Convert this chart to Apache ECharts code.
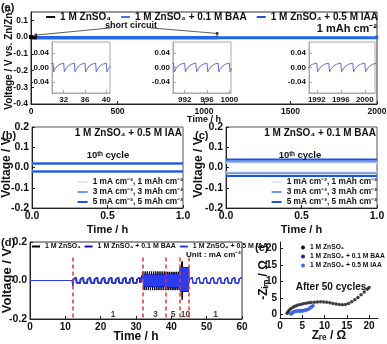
<!DOCTYPE html>
<html>
<head>
<meta charset="utf-8">
<style>html,body{margin:0;padding:0;background:#fff}#main{width:387px;height:344px}</style>
<script src="https://cdn.jsdelivr.net/npm/echarts@6.0.0/dist/echarts.min.js"></script>
</head>
<body>
<div id="main"></div>
<script>
// ---- values ----
const nameZn = '1 M ZnSO₄'
const nameBaa = '1 M ZnSO₄ + 0.1 M BAA'
const nameIaa = '1 M ZnSO₄ + 0.5 M IAA'

// (a) one 2 h cycle at 1 mA cm-2 (h into cycle, V)
const aCycle = [[0, 0.012], [0.12, -0.012], [0.4, -0.004], [0.8, 0.004], [1.3, 0.009], [2, 0.012]]
const aPeriod = 2
const aZnEnd = 24      // bare ZnSO4 shorts
const aBaaEnd = 1076   // BAA cell shorts
const aIaaEnd = 2000
const aShortAt = [[28, 0.012], [1076, 0.022]]
const aShortText = [[462, 0.055], [690, 0.055]]
const aInsetWin = [[29.8, 40.7], [989.9, 1000.3], [1990.7, 2001.7]]
const aInsetTicks = [[32, 36, 40], [992, 996, 1000], [1992, 1996, 2000]]
const aInsetTicksY = [-0.04, 0, 0.04]

// (b), (c) 10th cycle, flat plating / stripping voltages
const bcNames = ['1 mA cm⁻², 1 mAh cm⁻²', '3 mA cm⁻², 3 mAh cm⁻²', '5 mA cm⁻², 5 mAh cm⁻²']
const bcTime = [0, 1]
const bUp = [0.018, 0.02, 0.02]
const bDown = [-0.018, -0.02, -0.02]
const cUp = [0.024, 0.03, 0.039]
const cDown = [-0.025, -0.029, -0.042]

// (d) rate test
const dCycle1 = [[0, -0.015], [0.2, 0.008], [0.5, 0.015], [0.9, 0.016], [1.0, 0.014], [1.1, -0.012], [1.5, -0.014]]
const dDip = -0.03
// dense blocks: [from h, to h, period h, top V, bottom V]
const dZnBlocks = [[32, 38.5, 0.6, 0.047, -0.05], [38.5, 42.5, 0.5, 0.045, -0.05], [42.5, 43.0, 0.2, 0.055, -0.06]]
const dZnSpike = [[43.0, 0.095], [43.05, -0.1], [43.1, 0.1], [43.15, -0.09]]
const dBaaBlocks = [[32, 38.5, 0.3, 0.032, -0.034], [38.5, 42.5, 0.25, 0.036, -0.04], [42.5, 45, 0.2, 0.07, -0.06]]
const dIaaBlocks = [[32, 38.5, 0.3, 0.029, -0.03], [38.5, 42.5, 0.25, 0.033, -0.035], [42.5, 45, 0.2, 0.065, -0.055]]
const dSwitch = [12, 32, 38.5, 42.5, 45]
const dCurrent = ['1', '3', '5', '10', '1']
const dCurrentAt = [23.5, 35.5, 40.5, 44, 52.5]

// (e) Nyquist after 50 cycles [Zre, -Zim]
const eZn = [[1.6, 0.4], [1.8, 0.9], [2.1, 1.4], [2.5, 1.9], [3.0, 2.3], [3.5, 2.6], [4.0, 2.9], [4.6, 3.1], [5.2, 3.3], [5.8, 3.5], [6.4, 3.6], [7.0, 3.7], [7.7, 3.8], [8.4, 3.85], [9.1, 3.9], [9.8, 3.85], [10.5, 3.8], [11.2, 3.6], [11.9, 3.4], [12.6, 3.2], [13.3, 3.05], [14.0, 3.0], [14.7, 3.1], [15.4, 3.4], [16.1, 3.9], [16.8, 4.5], [17.5, 5.2], [18.2, 6.0], [18.9, 6.9], [19.6, 7.7], [20.0, 8.2]]
const eBaa = [[2.4, 0.2], [2.7, 0.6], [3.1, 0.9], [3.6, 1.1], [4.1, 1.2], [4.6, 1.2], [5.1, 1.3], [5.6, 1.4], [6.1, 1.6], [6.6, 1.9], [7.0, 2.3], [7.4, 2.7]]
const eIaa = [[2.6, 0.3], [2.9, 0.7], [3.3, 0.9], [3.8, 1.0], [4.3, 1.0], [4.8, 1.0], [5.3, 1.1], [5.8, 1.3], [6.3, 1.6], [6.8, 2.0], [7.2, 2.4]]
const eTicks = [0, 5, 10, 15, 20]

// ---- helpers ----
const F = '"Liberation Sans Narrow", "Liberation Sans", Arial, sans-serif'
const INK = '#111'

function repeat(shape, period, from, to) {
  const pts = []
  for (let t = from; t < to - 1e-6; t += period)
    shape.forEach(p => { if (t + p[0] <= to) pts.push([+(t + p[0]).toFixed(3), p[1]]) })
  return pts
}
function zigzag(b) {
  const [from, to, p, top, bot] = b
  return repeat([[0, top], [p * 0.45, top], [p * 0.5, bot], [p * 0.95, bot]], p, from, to)
}

function axis(o) {
  const size = o.size || 9
  const ax = {
    type: 'value', gridIndex: o.grid, min: o.min, max: o.max, interval: o.interval,
    name: o.name || '', nameLocation: 'middle', nameGap: o.nameGap || 10, nameMoveOverlap: false,
    nameTextStyle: { color: INK, fontFamily: F, fontWeight: 'bold', fontSize: o.nameSize || size },
    axisLine: { onZero: false, lineStyle: { color: o.lineColor || '#222' } },
    axisTick: { inside: true, length: 3, lineStyle: { color: o.lineColor || '#222' } },
    splitLine: { show: false },
    axisLabel: { color: INK, fontFamily: F, fontWeight: 'bold', fontSize: size, margin: 3, hideOverlap: false, formatter: o.fmt || (v => String(v)), showMaxLabel: o.showMax !== false }
  }
  if (o.custom) {
    ax.axisLabel.customValues = o.custom
    ax.axisTick.customValues = o.custom
  }
  return ax
}
function grid(left, top, width, height, extra) {
  return Object.assign({ left: left, top: top, width: width, height: height, containLabel: false, outerBoundsMode: 'none' }, extra || {})
}
function text(x, y, s, size, align) {
  return { type: 'text', x: x, y: y, z: 100, style: { text: s, fill: INK, fontFamily: F, fontWeight: 'bold', fontSize: size, align: align || 'left', verticalAlign: 'middle' } }
}
function legendItem(name, color, icon) {
  return { name: name, icon: icon || 'rect', itemStyle: { color: color } }
}

const f1 = v => v.toFixed(1)
const f2 = v => v.toFixed(2)

// ---- series ----
const series = []

// (a)
series.push({ type: 'line', name: nameBaa, xAxisIndex: 0, yAxisIndex: 0, showSymbol: false, data: repeat(aCycle, aPeriod, 0, aBaaEnd), lineStyle: { color: '#1a1ac8', width: 3 } })
series.push({
  type: 'line', name: nameIaa, xAxisIndex: 0, yAxisIndex: 0, showSymbol: false, data: repeat(aCycle, aPeriod, 0, aIaaEnd), lineStyle: { color: '#1e6ae6', width: 3 },
  markLine: {
    silent: true, symbol: ['none', 'circle'], symbolSize: 3, label: { show: false },
    lineStyle: { color: '#333', width: 0.8, type: 'solid' },
    data: aShortText.map((p, i) => [{ coord: p }, { coord: aShortAt[i] }])
  }
})
series.push({ type: 'line', name: nameZn, xAxisIndex: 0, yAxisIndex: 0, showSymbol: false, data: repeat(aCycle, aPeriod, 0, aZnEnd), lineStyle: { color: '#000', width: 4 } })
aInsetWin.forEach((w, i) => {
  const start = Math.floor(w[0] / aPeriod) * aPeriod - aPeriod
  series.push({ type: 'line', name: nameIaa, xAxisIndex: 1 + i, yAxisIndex: 1 + i, showSymbol: false, data: repeat(aCycle, aPeriod, start, w[1] + aPeriod), lineStyle: { color: '#6a6ad6', width: 1 } })
})

// (b), (c)
const bcColors = ['#dfe8f8', '#6f9be8', '#1e55e0']
;[[bUp, bDown, 4], [cUp, cDown, 5]].forEach(([up, down, ax]) => {
  bcNames.forEach((n, i) => {
    ;[up[i], down[i]].forEach(v => {
      series.push({ type: 'line', name: n, xAxisIndex: ax, yAxisIndex: ax, showSymbol: false, data: bcTime.map(t => [t, v]), lineStyle: { color: bcColors[i], width: 2 } })
    })
  })
})

// (d)
const dZn = [[0, 0], [12, 0]].concat(repeat(dCycle1, 2, 12, 32), ...dZnBlocks.map(zigzag), dZnSpike)
const dBaa = [[0, 0], [12, 0], [12.1, dDip]].concat(repeat(dCycle1, 2, 12.2, 32), ...dBaaBlocks.map(zigzag), repeat(dCycle1, 2, 45, 60))
const dIaa = [[0, 0], [12, 0], [12.1, dDip]].concat(repeat(dCycle1, 2, 12.2, 32), ...dIaaBlocks.map(zigzag), repeat(dCycle1, 2, 45, 60))
series.push({ type: 'line', name: nameZn, xAxisIndex: 6, yAxisIndex: 6, showSymbol: false, data: dZn, lineStyle: { color: '#000', width: 1 } })
series.push({ type: 'line', name: nameBaa, xAxisIndex: 6, yAxisIndex: 6, showSymbol: false, data: dBaa, lineStyle: { color: '#1414b4', width: 1.2 } })
series.push({
  type: 'line', name: nameIaa, xAxisIndex: 6, yAxisIndex: 6, showSymbol: false, data: dIaa, lineStyle: { color: '#2a3cf0', width: 1.2 },
  markLine: {
    silent: true, symbol: 'none', label: { show: false },
    lineStyle: { color: '#e03a3a', width: 1.5, type: [4, 3] },
    data: dSwitch.map(t => [{ coord: [t, 0.12] }, { coord: [t, -0.2] }])
  }
})
series.push({
  type: 'scatter', xAxisIndex: 6, yAxisIndex: 6, symbolSize: 0,
  data: dCurrent.map((c, i) => ({ name: c, value: [dCurrentAt[i], -0.175] })),
  label: { show: true, position: 'inside', formatter: '{b}', color: INK, fontFamily: F, fontWeight: 'bold', fontSize: 8.5 }
})

// (e)
series.push({ type: 'scatter', name: nameZn, xAxisIndex: 7, yAxisIndex: 7, data: eZn, symbolSize: 3.5, itemStyle: { color: '#111' } })
series.push({ type: 'scatter', name: nameBaa, xAxisIndex: 7, yAxisIndex: 7, data: eBaa, symbolSize: 3.5, itemStyle: { color: '#2222bb' } })
series.push({ type: 'scatter', name: nameIaa, xAxisIndex: 7, yAxisIndex: 7, data: eIaa, symbolSize: 3.5, itemStyle: { color: '#3a6ff0' } })

const boxed = c => ({ show: true, borderColor: c, borderWidth: 1, backgroundColor: '#fff' })

const option = {
  animation: false,
  grid: [
    grid(31, 12, 346, 92, boxed('#333')),
    grid(52, 42, 58, 51, boxed('#aaa')),
    grid(173, 42, 58, 51, boxed('#aaa')),
    grid(309, 42, 66, 51, boxed('#aaa')),
    grid(32, 127, 151, 81, boxed('#555')),
    grid(226, 127, 151, 81, boxed('#555')),
    grid(30, 242, 212, 77, boxed('#333')),
    grid(280, 242, 98, 76)
  ],
  xAxis: [
    axis({ grid: 0, min: 0, max: 2000, interval: 500, size: 8.5, name: 'Time / h', nameGap: 11, nameSize: 9 }),
    axis({ grid: 1, min: aInsetWin[0][0], max: aInsetWin[0][1], custom: aInsetTicks[0], size: 8, lineColor: '#aaa' }),
    axis({ grid: 2, min: aInsetWin[1][0], max: aInsetWin[1][1], custom: aInsetTicks[1], size: 8, lineColor: '#aaa' }),
    axis({ grid: 3, min: aInsetWin[2][0], max: aInsetWin[2][1], custom: aInsetTicks[2], size: 8, lineColor: '#aaa' }),
    axis({ grid: 4, min: 0, max: 1, interval: 0.5, size: 10.5, fmt: f1, name: 'Time / h', nameGap: 16, nameSize: 11 }),
    axis({ grid: 5, min: 0, max: 1, interval: 0.5, size: 10.5, fmt: f1, name: 'Time / h', nameGap: 16, nameSize: 11 }),
    axis({ grid: 6, min: 0, max: 60, interval: 10, size: 10, name: 'Time / h', nameGap: 12, nameSize: 12 }),
    axis({ grid: 7, min: 0, max: 22, interval: 5, size: 10, showMax: false, name: 'Zᵣₑ / Ω', nameGap: 12, nameSize: 12 })
  ],
  yAxis: [
    axis({ grid: 0, min: -0.4, max: 0.15, interval: 0.1, size: 8.5, fmt: f1, showMax: false, name: 'Voltage / V vs. Zn/Zn²⁺', nameGap: 17, nameSize: 10 }),
    axis({ grid: 1, min: -0.07, max: 0.07, custom: aInsetTicksY, size: 8, fmt: f2, lineColor: '#aaa' }),
    axis({ grid: 2, min: -0.07, max: 0.07, custom: aInsetTicksY, size: 8, fmt: f2, lineColor: '#aaa' }),
    axis({ grid: 3, min: -0.07, max: 0.07, custom: aInsetTicksY, size: 8, fmt: f2, lineColor: '#aaa' }),
    axis({ grid: 4, min: -0.2, max: 0.2, interval: 0.1, size: 10.5, fmt: f1, name: 'Voltage / V', nameGap: 19, nameSize: 12 }),
    axis({ grid: 5, min: -0.2, max: 0.2, interval: 0.1, size: 10.5, fmt: f1, name: 'Voltage / V', nameGap: 21, nameSize: 12 }),
    axis({ grid: 6, min: -0.2, max: 0.2, interval: 0.2, size: 10.5, fmt: f1, name: 'Voltage / V', nameGap: 16, nameSize: 13 }),
    axis({ grid: 7, min: -1, max: 22, custom: eTicks, size: 10, name: '-Zᵢₘ / Ω', nameGap: 10, nameSize: 12 })
  ],
  legend: [
    {
      right: 9, top: 12, padding: 0, itemWidth: 9, itemHeight: 2, itemGap: 10,
      textStyle: { color: INK, fontFamily: F, fontWeight: 'bold', fontSize: 10 },
      data: [legendItem(nameZn, '#111'), legendItem(nameBaa, '#4a78e8'), legendItem(nameIaa, '#2050d8')]
    },
    {
      orient: 'vertical', right: 204, top: 178, padding: 0, itemWidth: 10, itemHeight: 2, itemGap: 2, align: 'left',
      textStyle: { color: INK, fontFamily: F, fontWeight: 'bold', fontSize: 8.3 },
      data: bcNames.map((n, i) => legendItem(n, bcColors[i]))
    },
    {
      orient: 'vertical', right: 10, top: 178, padding: 0, itemWidth: 10, itemHeight: 2, itemGap: 2, align: 'left',
      textStyle: { color: INK, fontFamily: F, fontWeight: 'bold', fontSize: 8.3 },
      data: bcNames.map((n, i) => legendItem(n, bcColors[i]))
    },
    {
      left: 32, top: 243, padding: 0, itemWidth: 8, itemHeight: 2, itemGap: 4,
      textStyle: { color: INK, fontFamily: F, fontWeight: 'bold', fontSize: 7 },
      data: [legendItem(nameZn, '#000'), legendItem(nameBaa, '#1414b4'), legendItem(nameIaa, '#2a3cf0')]
    },
    {
      orient: 'vertical', left: 301, top: 244, padding: 0, itemWidth: 4, itemHeight: 4, itemGap: 2,
      textStyle: { color: INK, fontFamily: F, fontWeight: 'bold', fontSize: 6.7 },
      data: [legendItem(nameZn, '#111', 'circle'), legendItem(nameBaa, '#2222bb', 'circle'), legendItem(nameIaa, '#3a6ff0', 'circle')]
    }
  ],
  graphic: [
    text(1, 8, '(a)', 11),
    text(131, 26, 'short circuit', 9, 'center'),
    text(377, 29, '1 mAh cm⁻²', 11, 'right'),
    text(2, 136, '(b)', 11),
    text(195, 136, '(c)', 11),
    text(182, 133, nameIaa, 10, 'right'),
    text(376, 133, nameBaa, 10, 'right'),
    text(108, 155, '10ᵗʰ cycle', 9.5, 'center'),
    text(300, 155, '10ᵗʰ cycle', 9.5, 'center'),
    text(1, 243, '(d)', 11),
    text(241, 255, 'Unit : mA cm⁻²', 8, 'right'),
    text(255, 248, '(e)', 11),
    text(331, 287, 'After 50 cycles', 10, 'center')
  ],
  series: series
}

const chart = echarts.init(document.getElementById('main'), null, { renderer: 'canvas' })
chart.setOption(option)
</script>
</body>
</html>
